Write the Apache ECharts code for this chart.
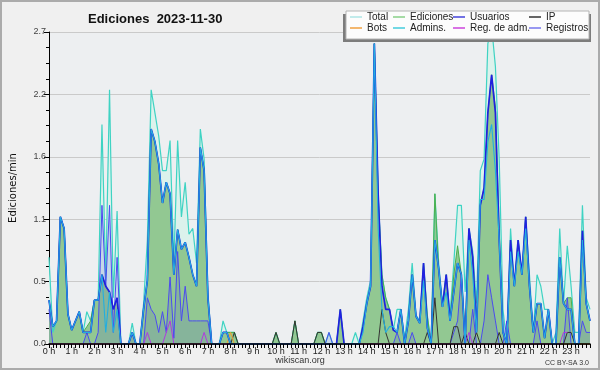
<!DOCTYPE html>
<html><head><meta charset="utf-8">
<script src="https://cdn.jsdelivr.net/npm/echarts@6/dist/echarts.min.js"></script>
<style>html,body{margin:0;padding:0;background:#f0f0f0}#c{width:600px;height:370px}</style>
</head><body><div id="c"></div>
<script>
// tick labels (one per hour)
const hourLabels = ['0 h','1 h','2 h','3 h','4 h','5 h','6 h','7 h','8 h','9 h','10 h','11 h',
  '12 h','13 h','14 h','15 h','16 h','17 h','18 h','19 h','20 h','21 h','22 h','23 h'];

// series values (edits per minute, 10-minute bins, 6 per hour)
const total = [
0.75,0.1,0.2,1.1,1.0,0.26,
0.12,0.2,0.28,0.1,0.28,0.2,
0.38,0.38,1.9,0.55,2.2,0.4,
1.15,0,0,0,0.18,0,
0,0.35,0.9,2.2,2.0,1.8,
1.5,1.5,1.76,0.7,1.76,1.1,
1.4,0.95,1.0,0.7,1.86,1.6,
0.45,0,0,0,0.2,0.1,
0.1,0.1,0,0,0,0,
0,0,0,0,0,0,
0.1,0,0,0,0,0.2,
0,0,0,0,0,0.1,
0.1,0,0.1,0,0,0.3,
0,0,0,0.1,0,0.2,
0.4,0.55,2.6,1.3,0.6,0.4,
0.3,0.12,0.3,0.3,0.05,0.3,
0.7,0.25,0.2,0.7,0.25,0,
1.3,0.7,0.35,0.6,0.25,0.7,
1.2,1.2,0.45,1.0,0.8,0.35,
1.5,1.6,2.6,2.75,2.4,1.6,
0.3,0,1.0,0.5,0.9,0.6,
1.1,0.6,0.1,0.6,0.5,0.3,
0.3,0,0.1,1.0,0.35,0.85,
0.5,0.1,0.1,1.2,0.4,0.3];

const ediciones = [
0.38,0.15,0.2,1.1,1.0,0.26,
0.12,0.2,0.28,0.1,0.15,0.2,
0.38,0.38,0.6,0.5,0.45,0.3,
0.4,0,0,0,0.1,0,
0,0.3,0.55,1.86,1.75,1.56,
1.22,1.4,1.3,0.6,0.99,0.82,
0.88,0.75,0.6,0.5,1.7,1.5,
0.4,0,0,0,0.1,0.1,
0.1,0.1,0,0,0,0,
0,0,0,0,0,0,
0.1,0,0,0,0,0.2,
0,0,0,0,0,0.1,
0.1,0,0,0,0,0.3,
0,0,0,0,0,0.15,
0.35,0.5,2.6,1.3,0.6,0.4,
0.3,0.12,0.1,0.3,0,0.2,
0.6,0.24,0.18,0.7,0.24,0,
1.3,0.65,0.32,0.6,0.2,0.6,
0.85,0.6,0.1,1.0,0.75,0.2,
1.2,1.35,2.0,2.33,2.05,1.0,
0.1,0,0.9,0.5,0.9,0.6,
1.1,0.5,0.1,0.35,0.35,0.05,
0.3,0,0,0.75,0.35,0.4,
0.4,0,0,0.98,0.35,0.2];

const usuarios = [
0.38,0.15,0.2,1.1,1.0,0.26,
0.12,0.2,0.28,0.1,0.1,0.1,
0.38,0.38,0.6,0.5,0.45,0.3,
0.4,0,0,0,0.1,0,
0,0.3,0.55,1.86,1.75,1.56,
1.22,1.4,1.3,0.6,0.99,0.82,
0.88,0.75,0.6,0.5,1.7,1.5,
0.4,0,0,0,0.1,0.1,
0,0,0,0,0,0,
0,0,0,0,0,0,
0,0,0,0,0,0,
0,0,0,0,0,0,
0,0,0,0,0,0.3,
0,0,0,0,0,0.15,
0.35,0.5,2.6,1.3,0.5,0.3,
0.3,0.12,0.1,0.3,0,0.2,
0.6,0.24,0.18,0.7,0.14,0,
0.9,0.65,0.32,0.6,0.2,0.45,
0.7,0.6,0,1.0,0.75,0.1,
1.2,1.35,2.0,2.33,2.0,0.9,
0.1,0,0.9,0.5,0.9,0.6,
1.1,0.5,0.1,0.35,0.35,0.05,
0.3,0,0,0.75,0.35,0.3,
0.3,0,0,0.98,0.35,0.2];

const admins = [
0.38,0.15,0.2,1.1,1.0,0.26,
0.12,0.2,0.28,0.1,0.1,0.1,
0.38,0.38,0.6,0.1,0.45,0.1,
0.3,0,0,0,0.1,0,
0,0.3,0.55,1.86,1.75,1.56,
1.22,1.4,1.3,0.6,0.99,0.82,
0.88,0.75,0.6,0.5,1.7,1.5,
0.4,0,0,0,0.1,0.1,
0,0,0,0,0,0,
0,0,0,0,0,0,
0,0,0,0,0,0,
0,0,0,0,0,0,
0,0,0,0,0,0,
0,0,0,0,0,0.1,
0.35,0.5,2.6,1.0,0.3,0.1,
0.15,0.15,0.1,0.3,0,0.2,
0.6,0.24,0.18,0.55,0.14,0,
0.9,0.65,0.32,0.45,0.2,0.45,
0.7,0.6,0,0.9,0.6,0.1,
1.25,1.25,1.75,1.9,1.5,0.9,
0.1,0,0.8,0.5,0.8,0.6,
1.0,0.5,0.1,0.35,0.35,0.05,
0.3,0,0,0.75,0.35,0.3,
0.3,0,0,0.9,0.35,0.2];

const ip = [
0,0,0,0,0,0, 0,0,0,0,0,0, 0,0,0,0,0,0, 0,0,0,0,0,0,
0,0,0,0,0,0, 0,0,0,0,0,0, 0,0,0,0,0,0, 0,0,0,0,0,0,
0,0.1,0,0,0,0, 0,0,0,0,0,0,
0.1,0,0,0,0,0.2,
0,0,0,0,0,0.1,
0.1,0,0,0,0,0,
0,0,0,0,0,0,
0,0,0,0,0.3,0.1,
0,0,0,0,0,0,
0,0,0,0,0.1,0,
0.4,0,0,0,0,0.15,
0.15,0,0.1,0,0,0.1,
0,0,0,0,0,0.1,
0,0,0,0,0,0,
0,0,0,0,0,0,
0,0,0,0,0,0.1,
0.1,0,0,0,0,0];

const registros = [
0.3,0,0,0,0,0,
0,0,0,0,0.1,0,
0,0.1,1.2,0.5,1.2,0.1,
0.75,0,0,0,0.1,0,
0,0,0.4,0.3,0.25,0.1,
0.28,0.1,0.58,0.05,0.8,0.2,
0.5,0.2,0.2,0.2,0.2,0.2,
0.2,0,0,0,0,0,
0,0,0,0,0,0, 0,0,0,0,0,0, 0,0,0,0,0,0, 0,0,0,0,0,0,
0,0,0.1,0,0,0,
0,0,0,0,0,0,
0,0,0,0,0,0,
0,0,0.1,0,0,0,
0.1,0,0,0,0,0,
0,0,0,0,0,0.1,
0.2,0.6,0,0,0.3,0,
0,0.2,0.6,0.4,0.2,0,
0,0.2,0,0,0,0,
0,0,0,0.2,0,0,
0,0,0,0,0,0.4,
0,0,0,0.2,0.1,0.1];

const regAdm = [
0,0,0,0,0,0, 0,0,0,0,0,0, 0,0,0,0,0,0, 0,0,0,0,0,0,
0,0,0.1,0,0,0,
0,0.1,0.2,0,0,0,
0,0,0,0,0,0.1,
0,0,0,0,0,0, 0,0,0,0,0,0, 0,0,0,0,0,0, 0,0,0,0,0,0,
0,0,0,0,0,0, 0,0,0,0,0,0, 0,0,0,0,0,0, 0,0,0,0,0,0,
0,0,0,0,0,0, 0,0,0,0,0,0, 0,0,0,0,0,0,
0,0,0,0.1,0,0,
0,0,0,0,0,0, 0,0,0,0,0,0, 0,0,0,0,0,0,
0,0,0,0,0.1,0.1];

const bots = [
0,0,0,0,0,0, 0,0,0,0,0,0, 0,0,0,0,0,0, 0,0,0,0,0,0,
0,0,0,0,0,0, 0,0,0,0,0,0, 0,0,0,0,0,0, 0,0,0,0,0,0,
0.1,0,0,0,0,0,
0,0,0,0,0,0, 0,0,0,0,0,0, 0,0,0,0,0,0, 0,0,0,0,0,0, 0,0,0,0,0,0,
0,0,0,0,0,0, 0,0,0,0,0,0, 0,0,0,0,0,0, 0,0,0,0,0,0, 0,0,0,0,0,0,
0,0,0,0,0,0, 0,0,0,0,0,0, 0,0,0,0,0,0, 0,0,0,0,0,0, 0,0,0,0,0,0];

// categories: 10-minute slots
const categories = [];
for (let h = 0; h < 24; h++) for (let m = 0; m < 60; m += 10) categories.push(h + ':' + (m < 10 ? '0' : '') + m);

const FONT = 'Liberation Sans';
const chart = echarts.init(document.getElementById('c'), null, {renderer: 'canvas'});

function ser(name, data, color, width, area) {
  const s = {
    name: name, type: 'line', data: data, showSymbol: false, symbol: 'none',
    clip: false, animation: false, emphasis: {disabled: true},
    lineStyle: {color: color, width: width}, itemStyle: {color: color}
  };
  if (area) s.areaStyle = {color: area, opacity: 1};
  return s;
}

const legendDefs = [
  {name: 'Total', color: '#aee6e6', left: 350, top: 12},
  {name: 'Ediciones', color: '#88d088', left: 393, top: 12},
  {name: 'Usuarios', color: '#4444dd', left: 453, top: 12},
  {name: 'IP', color: '#333333', left: 529, top: 12},
  {name: 'Bots', color: '#f0a040', left: 350, top: 23},
  {name: 'Admins.', color: '#44ccdd', left: 393, top: 23},
  {name: 'Reg. de adm.', color: '#cc44dd', left: 453, top: 23},
  {name: 'Registros', color: '#7777ee', left: 529, top: 23}
];

const option = {
  backgroundColor: '#f0f0f0',
  animation: false,
  title: {text: 'Ediciones  2023-11-30', left: 83, top: 8,
    textStyle: {fontFamily: FONT, fontSize: 13, fontWeight: 'bold', color: '#111'}},
  grid: {left: 46, right: 10, top: 32, bottom: 26, show: true, backgroundColor: '#edeff1', borderWidth: 0},
  xAxis: {
    type: 'category', data: categories, boundaryGap: false, z: 5,
    axisLine: {lineStyle: {color: '#000', width: 1.5}},
    axisTick: {show: true, interval: 0, length: 4, lineStyle: {color: '#000'}},
    axisLabel: {interval: 5, formatter: function (v, i) { return hourLabels[Math.floor(i / 6)]; },
      fontFamily: FONT, fontSize: 9, color: '#222', margin: 3},
    splitLine: {show: false}
  },
  yAxis: {
    type: 'value', min: 0, max: 2.7, interval: 0.54,
    axisLine: {show: true, lineStyle: {color: '#000'}},
    axisTick: {show: true, length: 5, lineStyle: {color: '#000'}},
    minorTick: {show: true, splitNumber: 4, length: 3, lineStyle: {color: '#000'}},
    axisLabel: {formatter: function (v) { return v.toFixed(1); }, fontFamily: FONT, fontSize: 9, color: '#444', margin: 3},
    splitLine: {lineStyle: {color: '#cacaca'}},
    name: 'Ediciones/min', nameLocation: 'middle', nameRotate: 90, nameGap: 31,
    nameTextStyle: {fontFamily: 'DejaVu Sans', fontSize: 10, color: '#111'}
  },
  legend: legendDefs.map(function (d) {
    return {
      data: [{name: d.name, icon: 'rect', itemStyle: {color: d.color}}],
      left: d.left, top: d.top, padding: 0, itemWidth: 12, itemHeight: 1.5,
      selectedMode: false, z: 10,
      textStyle: {fontFamily: FONT, fontSize: 10, color: '#222', padding: [0, 0, 0, 0]}
    };
  }),
  graphic: [
    {type: 'rect', z: 8, shape: {x: 343, y: 14, width: 248, height: 28}, style: {fill: '#7c7c7c'}},
    {type: 'rect', z: 9, shape: {x: 346, y: 11, width: 243, height: 28}, style: {fill: '#fcfcfc', stroke: '#b4b4b4', lineWidth: 1}},
    {type: 'rect', z: 9, shape: {x: 1, y: 1, width: 598, height: 368}, style: {fill: 'none', stroke: '#ababab', lineWidth: 2}},
    {type: 'text', z: 9, x: 300, y: 361, style: {text: 'wikiscan.org', font: '9px "Liberation Sans"', fill: '#333', align: 'center', verticalAlign: 'middle'}},
    {type: 'text', z: 9, x: 589, y: 363, style: {text: 'CC BY-SA 3.0', font: '7px "Liberation Sans"', fill: '#333', align: 'right', verticalAlign: 'middle'}}
  ],
  series: [
    ser('Total', total, '#3fd3c3', 1.2, '#dcf2ec'),
    ser('Ediciones', ediciones, '#4cb04c', 1, '#92c892'),
    ser('Registros', registros, '#4b4bf0', 1, 'rgba(70,70,210,0.15)'),
    ser('IP', ip, '#333333', 1),
    ser('Bots', bots, '#f0a030', 1),
    ser('Reg. de adm.', regAdm, '#b03ae0', 1),
    ser('Usuarios', usuarios, '#2020e0', 1.7),
    ser('Admins.', admins, '#22aee0', 1.1)
  ]
};
chart.setOption(option);
</script>
</body></html>
